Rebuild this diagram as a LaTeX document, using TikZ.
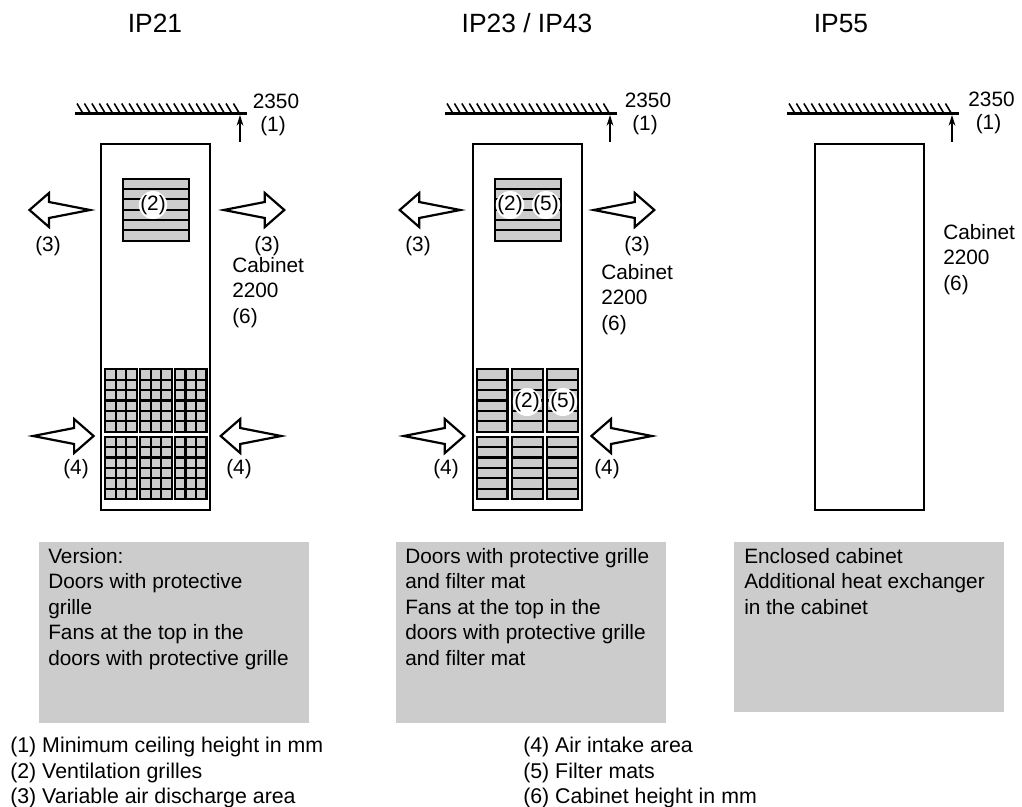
\documentclass[tikz,border=0pt]{standalone}
\usepackage{fontspec}
\setmainfont{Liberation Sans}
\usetikzlibrary{arrows.meta,positioning,calc,shapes.geometric}

\definecolor{matgrey}{HTML}{CCCCCC}

\tikzset{
    heavy/.style={line width=1.65pt,line join=miter},
    label/.style={inner sep=0pt,font=\fontsize{15.6}{19.1}\selectfont},
    heading/.style={inner sep=0pt,anchor=base,font=\fontsize{19.8}{24}\selectfont},
    notebox/.style={fill=matgrey,inner sep=0pt,anchor=north west,minimum width=202.5pt},
    notetext/.style={label,anchor=north west,align=left},
    legend/.style={notetext,font=\fontsize{16}{19.1}\selectfont},
    badge/.style={label,fill=white,ellipse,inner sep=-2pt,minimum width=19.5pt,minimum height=21pt},
    airflow/.pic={\draw[heavy,fill=white] (0,0) -- (-19.5,-17) -- (-19.5,-8) -- (-60.5,0) -- (-19.5,8) -- (-19.5,17) -- cycle;}
}

% One mat with six rows
\newcommand{\matpanel}[4]{
    \filldraw[heavy,fill=matgrey] (#1,#2) rectangle ++(#3,#4);
    \foreach \r in {1,...,5}
        \draw[heavy] (#1,{#2+\r*#4/6}) -- ++(#3,0);
}
% Same mat with a protective grille
\newcommand{\gridpanel}[4]{
    \matpanel{#1}{#2}{#3}{#4}
    \foreach \c in {1,2}
        \draw[heavy] ({#1+\c*#3/3},#2) -- ++(0,#4);
}

\begin{document}
\begin{tikzpicture}[x=0.75pt,y=-0.75pt]
    \useasboundingbox (0,0) rectangle (1022,807);

    % Headings
    \node[heading] (titleA) at (155,32) {IP21};
    \node[heading] (titleB) at (527,32) {IP23 / IP43};
    \node[heading] (titleC) at (841,32) {IP55};

    % Ceilings
    \foreach \col/\cx/\tx/\ty in {A/75/276/101,B/445/648/100,C/787/991.5/99} {
        \draw[heavy] (\cx,113.5) -- ++(172,0);
        \foreach \k in {0,...,21}
            \draw[line width=1.2pt] ({\cx+2+\k*7.45},103.5) -- ++(6,10);
        \coordinate (gapfoot\col) at (\cx+165,142);
        \coordinate (gaphead\col) at (\cx+165,115);
        \draw[-{Stealth[length=8pt,width=5pt]},line width=0.8pt] (gapfoot\col) -- (gaphead\col);
        \node[label] (gaptext\col) at (\tx,\ty) {2350};
        \node[label] (gapnum\col) at (\tx-3,\ty+25) {(1)};
    }

    % Cabinets
    \draw[heavy] (101,143.7) rectangle (210,510);
    \draw[heavy] (473,143.7) rectangle (581.7,510);
    \draw[heavy] (815,143.7) rectangle (924,510);

    % Top grilles
    \matpanel{123}{178.7}{66}{62}
    \matpanel{494.7}{178.7}{66.3}{62}

    % Door grilles, IP21
    \foreach \px in {105.3,140.3,175}
        \foreach \py in {369.3,436.7}
            {\gridpanel{\px}{\py}{31.5}{62.4}}

    % Door grilles, IP23 / IP43
    \foreach \px in {477,512.3,547.3}
        \foreach \py in {369.3,436.7}
            {\matpanel{\px}{\py}{30.4}{62.4}}

    % Air flow
    \pic[xscale=-1] at (29.5,210) {airflow};
    \pic at (284.3,210) {airflow};
    \pic at (93.6,436) {airflow};
    \pic[xscale=-1] at (220.7,436) {airflow};
    \pic[xscale=-1] at (399.7,210) {airflow};
    \pic at (654.3,210) {airflow};
    \pic at (464.3,436) {airflow};
    \pic[xscale=-1] at (591.4,436) {airflow};

    % Labels on the grilles
    \node[badge] (ventA) at (153,205) {(2)};
    \node[badge] (ventB) at (510,205) {(2)};
    \node[badge] (filterB) at (546,205) {(5)};
    \node[badge] (ventD) at (527,402) {(2)};
    \node[badge] (filterD) at (563,402) {(5)};

    % Air labels
    \node[label] (outA) at (48,246) {(3)};
    \node[label] (outB) at (267,246) {(3)};
    \node[label] (outC) at (418,246) {(3)};
    \node[label] (outD) at (637,246) {(3)};
    \node[label] (intakeA) at (76,469) {(4)};
    \node[label] (intakeB) at (239,469) {(4)};
    \node[label] (intakeC) at (446,469) {(4)};
    \node[label] (intakeD) at (607,469) {(4)};

    % Cabinet height
    \node[notetext] (heightA) at (232,257) {Cabinet\\2200\\(6)};
    \node[notetext] (heightB) at (601,264) {Cabinet\\2200\\(6)};
    \node[notetext] (heightC) at (943,224) {Cabinet\\2200\\(6)};

    % Notes
    \node[notebox,minimum height=135.75pt] (noteA) at (39,542) {};
    \node[notebox,minimum height=135.75pt] (noteB) at (396,542) {};
    \node[notebox,minimum height=127.5pt] (noteC) at (734,542) {};
    \node[notetext] (textA) at (48,548) {Version:\\Doors with protective\\grille\\Fans at the top in the\\doors with protective grille};
    \node[notetext] (textB) at (405,548) {Doors with protective grille\\and filter mat\\Fans at the top in the\\doors with protective grille\\and filter mat};
    \node[notetext] (textC) at (744,548) {Enclosed cabinet\\Additional heat exchanger\\in the cabinet};

    % Legend
    \node[legend] (legendA) at (10,737) {(1) Minimum ceiling height in mm\\(2) Ventilation grilles\\(3) Variable air discharge area};
    \node[legend] (legendB) at (523,737) {(4) Air intake area\\(5) Filter mats\\(6) Cabinet height in mm};
\end{tikzpicture}
\end{document}
